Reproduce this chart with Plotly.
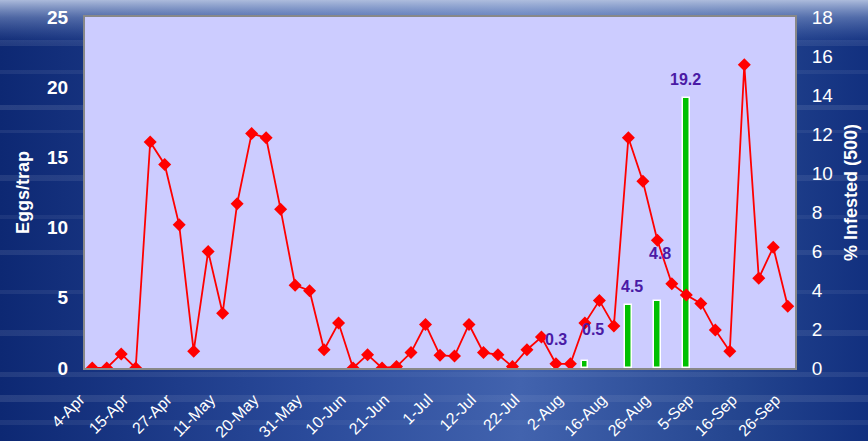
import base64
import plotly.graph_objects as go

# ---------------- data ----------------
tick_labels = ["4-Apr", "15-Apr", "27-Apr", "11-May", "20-May", "31-May", "10-Jun",
               "21-Jun", "1-Jul", "12-Jul", "22-Jul", "2-Aug", "16-Aug", "26-Aug",
               "5-Sep", "16-Sep", "26-Sep"]
eggs_per_trap = [0, 0, 1.0, 0, 16.1, 14.5, 10.2, 1.2, 8.3, 3.9, 11.7, 16.7, 16.4,
                 11.3, 5.9, 5.5, 1.3, 3.2, 0, 0.95, 0, 0.1, 1.1, 3.1, 0.9,
                 0.85, 3.1, 1.1, 0.95, 0.1, 1.3, 2.2, 0.3, 0.3, 3.2, 4.8, 3.0,
                 16.4, 13.3, 9.1, 6.0, 5.2, 4.6, 2.7, 1.2, 21.6, 6.4, 8.6, 4.4]
infested_index = [32, 34, 37, 39, 41]
infested_pct = [0.3, 0.5, 4.5, 4.8, 19.2]
right_ticks = [0, 2, 4, 6, 8, 10, 12, 14, 16, 18]

x_idx = list(range(len(eggs_per_trap)))
tick_step = 3

# ---------------- layout geometry ----------------
W, H = 868, 441
ML, MR, MT, MB = 85, 73, 17, 73
PW, PH = W - ML - MR, H - MT - MB

# ---------------- background ----------------
streaks = ""
for yy, op, hh in [(40, .10, 6), (70, .08, 4), (105, .12, 5), (130, .08, 3), (175, .1, 6),
                   (215, .07, 4), (250, .1, 5), (290, .08, 4), (330, .1, 6), (372, .1, 5),
                   (395, .12, 7), (420, .08, 5)]:
    streaks += f'<rect x="0" y="{yy}" width="{W}" height="{hh}" fill="url(#st)" opacity="{op}"/>'
svg = f'''<svg xmlns="http://www.w3.org/2000/svg" width="{W}" height="{H}" preserveAspectRatio="none">
<defs>
<linearGradient id="h" x1="0" y1="0" x2="1" y2="0">
<stop offset="0" stop-color="#0d2873"/><stop offset="0.35" stop-color="#2a4a9a"/>
<stop offset="0.6" stop-color="#4263ae"/><stop offset="0.85" stop-color="#24458f"/>
<stop offset="1" stop-color="#12307f"/></linearGradient>
<linearGradient id="v" x1="0" y1="0" x2="0" y2="1">
<stop offset="0" stop-color="#b4c2e0" stop-opacity="0.95"/>
<stop offset="0.04" stop-color="#8ea4d2" stop-opacity="0.5"/>
<stop offset="0.1" stop-color="#6a86c4" stop-opacity="0"/>
<stop offset="1" stop-color="#6a86c4" stop-opacity="0"/></linearGradient>
<linearGradient id="st" x1="0" y1="0" x2="1" y2="0">
<stop offset="0" stop-color="#ffffff" stop-opacity="0.9"/>
<stop offset="0.5" stop-color="#ffffff" stop-opacity="0.4"/>
<stop offset="1" stop-color="#ffffff" stop-opacity="0.8"/></linearGradient>
</defs>
<rect width="{W}" height="{H}" fill="url(#h)"/>
{streaks}
<rect width="{W}" height="{H}" fill="url(#v)"/>
</svg>'''
bg_uri = "data:image/svg+xml;base64," + base64.b64encode(svg.encode()).decode()

FONT = "Arial, Liberation Sans, sans-serif"

fig = go.Figure()

# bars (drawn on the left scale, as in the original)
fig.add_trace(go.Bar(
    x=infested_index, y=infested_pct, width=0.45,
    marker=dict(color="#00c000", line=dict(color="white", width=1.5)),
    hoverinfo="skip", showlegend=False, yaxis="y"))

# line
fig.add_trace(go.Scatter(
    x=x_idx, y=eggs_per_trap, mode="lines+markers",
    line=dict(color="#ff0000", width=1.8),
    marker=dict(symbol="diamond", size=10, color="#ff0000"),
    showlegend=False))

# dummy trace to show the right axis
fig.add_trace(go.Scatter(x=[0], y=[0], yaxis="y2", mode="markers",
                         marker=dict(opacity=0), showlegend=False, hoverinfo="skip"))

# bar value labels (manual placement like original)
label_shift = [(0, 24), (8, 31), (4, 18), (3, 47), (-1, 19)]
for xi, v, (dx, dy) in zip(infested_index, infested_pct, label_shift):
    fig.add_annotation(x=xi, y=v, text=f"<b>{v}</b>", showarrow=False,
                       xshift=dx, yshift=dy, yanchor="middle",
                       font=dict(family=FONT, size=16, color="#4a1aa5"))

# plot-area fill (above the background image)
fig.add_shape(type="rect", xref="x domain", yref="y domain", x0=0, x1=1, y0=0, y1=1,
              fillcolor="#ccccff", line=dict(width=0), layer="below")

fig.update_layout(
    width=W, height=H,
    margin=dict(l=ML, r=MR, t=MT, b=MB, autoexpand=False),
    paper_bgcolor="#1a3a8a",
    plot_bgcolor="#ccccff",
    images=[dict(source=bg_uri, xref="paper", yref="paper",
                 x=-ML / PW, y=1 + MT / PH, sizex=W / PW, sizey=H / PH,
                 xanchor="left", yanchor="top", layer="below", sizing="stretch")],
    xaxis=dict(range=[-0.5, len(x_idx) - 0.5], tickvals=x_idx[::tick_step],
               ticktext=tick_labels, tickangle=-45, showgrid=False, zeroline=False,
               showline=True, linecolor="#888888", linewidth=2, mirror=True,
               ticks="", ticklabelstandoff=14, ticklabelshift=-12, automargin=False,
               tickfont=dict(family=FONT, size=16, color="white")),
    yaxis=dict(range=[0, 25], dtick=5, showgrid=False, zeroline=False,
               showline=True, linecolor="#888888", linewidth=2, mirror=True,
               ticks="outside", ticklen=11, tickcolor="rgba(0,0,0,0)", automargin=False,
               tickfont=dict(family=FONT, size=19, color="white"),
               title=dict(text="<b>Eggs/trap</b>", standoff=13,
                          font=dict(family=FONT, size=18, color="white"))),
    yaxis2=dict(range=[0, 18], tickvals=right_ticks, overlaying="y", side="right",
                showgrid=False, zeroline=False, automargin=False,
                ticks="outside", ticklen=12, tickcolor="rgba(0,0,0,0)",
                tickfont=dict(family=FONT, size=19, color="white"),
                title=dict(text="<b>% Infested (500)</b>", standoff=12,
                           font=dict(family=FONT, size=18, color="white"))),
    bargap=0,
)
fig.update_yaxes(tickprefix="<b>", ticksuffix="</b>")

fig.write_html("out.html", config={"displayModeBar": False},
               post_script="document.body.style.margin='0';document.body.style.overflow='hidden';")
